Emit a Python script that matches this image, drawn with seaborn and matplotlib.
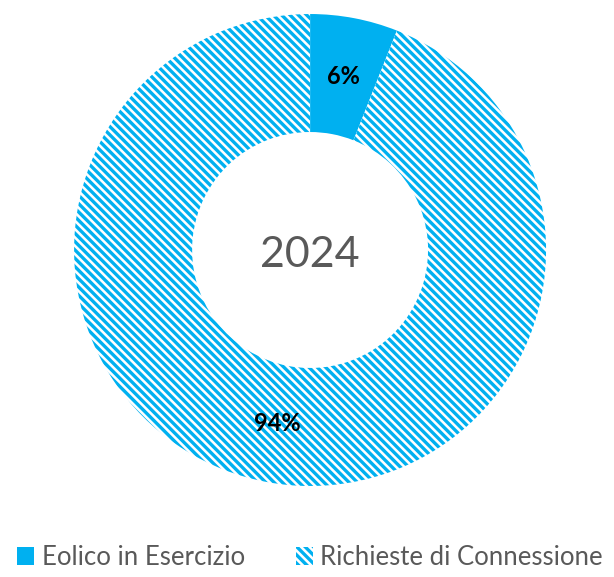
import matplotlib
matplotlib.use('Agg')
import matplotlib.pyplot as plt
import matplotlib.patches as mpatches
import seaborn as sns

categories = ['Eolico in Esercizio', 'Richieste di Connessione']
values = [6, 94]
center_label = '2024'

sns.set_theme(style='white')
plt.rcParams['font.family'] = ['Lato', 'DejaVu Sans']
plt.rcParams['hatch.linewidth'] = 2.4

blue = sns.color_palette(['#00B0F0'])[0]
hatch = '\\\\\\\\'

fig = plt.figure(figsize=(6.14, 5.77), dpi=100)
ax = fig.add_axes([0.505 - 0.3844, 0.5667 - 0.409, 0.7688, 0.818])

wedges, texts, autotexts = ax.pie(
    values, startangle=90, counterclock=False,
    colors=[blue, 'white'], radius=1,
    wedgeprops=dict(width=0.5, linewidth=0, edgecolor=blue),
    autopct='%.0f%%', pctdistance=0.75,
    textprops=dict(fontsize=17, fontweight='bold', color='black'))
wedges[1].set_hatch(hatch)
wedges[1].set_edgecolor(blue)
ax.set_xlim(-1, 1)
ax.set_ylim(-1, 1)

ax.text(0, -0.02, center_label, ha='center', va='center',
        fontsize=31, color='#595959')

handles = [
    mpatches.Patch(facecolor=blue, edgecolor=blue, linewidth=0),
    mpatches.Patch(facecolor='white', edgecolor=blue, hatch=hatch, linewidth=0),
]
fig.legend(handles, categories, loc='lower center', bbox_to_anchor=(0.505, -0.028),
           ncol=2, frameon=False, fontsize=18.5, handlelength=0.65, handleheight=0.65,
           handletextpad=0.3, columnspacing=2.0, labelcolor='#595959')

fig.savefig('out.png', dpi=100)
